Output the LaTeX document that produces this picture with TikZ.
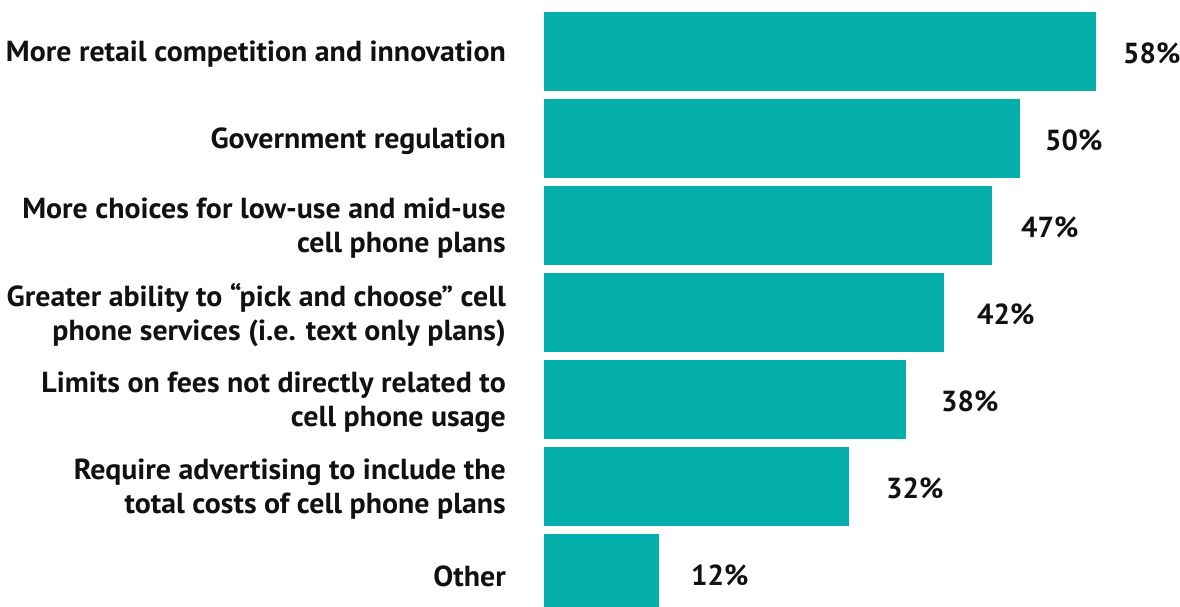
\documentclass[tikz,border=0pt]{standalone}
\usepackage{fontspec}
\setmainfont{PT Sans}
\newfontfamily\labfont[FakeStretch=1.03]{PT Sans}
\definecolor{barc}{RGB}{5,175,171}
\definecolor{txt}{RGB}{17,17,17}
\begin{document}
\begin{tikzpicture}[x=1pt,y=-1pt,
  barbox/.style={fill=barc,draw=none,inner sep=0,anchor=north west,minimum height=78.5pt},
  lab/.style={font=\labfont\bfseries\fontsize{29}{34}\selectfont,align=right,anchor=east,text=txt,inner sep=0,yshift=-3pt},
  pct/.style={font=\bfseries\fontsize{29}{34}\selectfont,anchor=west,text=txt,inner sep=0,yshift=-2pt}]
\useasboundingbox[fill=white] (0,0) rectangle (1180,607);
\node[barbox,minimum width=552pt] (b1) at (544,12) {};
\node[barbox,minimum width=476pt] (b2) at (544,99) {};
\node[barbox,minimum width=448pt] (b3) at (544,186) {};
\node[barbox,minimum width=400pt] (b4) at (544,273) {};
\node[barbox,minimum width=362pt] (b5) at (544,360) {};
\node[barbox,minimum width=305pt] (b6) at (544,447) {};
\node[barbox,minimum width=115pt,minimum height=73pt] (b7) at (544,534) {};
\node[lab] (l1) at (506,51) {More retail competition and innovation};
\node[lab] (l2) at (506,138) {Government regulation};
\node[lab] (l3) at (506,225) {More choices for low-use and mid-use\\cell phone plans};
\node[lab] (l4) at (506,312) {Greater ability to “pick and choose” cell\\phone services (i.e. text only plans)};
\node[lab] (l5) at (506,399) {Limits on fees not directly related to\\cell phone usage};
\node[lab] (l6) at (506,486) {Require advertising to include the\\total costs of cell phone plans};
\node[lab] (l7) at (506,573) {Other};
\node[pct] (p1) at (1123,51) {58\%};
\node[pct] (p2) at (1045,138) {50\%};
\node[pct] (p3) at (1021,225) {47\%};
\node[pct] (p4) at (977,312) {42\%};
\node[pct] (p5) at (941,399) {38\%};
\node[pct] (p6) at (886,486) {32\%};
\node[pct] (p7) at (691,573) {12\%};
\end{tikzpicture}
\end{document}
